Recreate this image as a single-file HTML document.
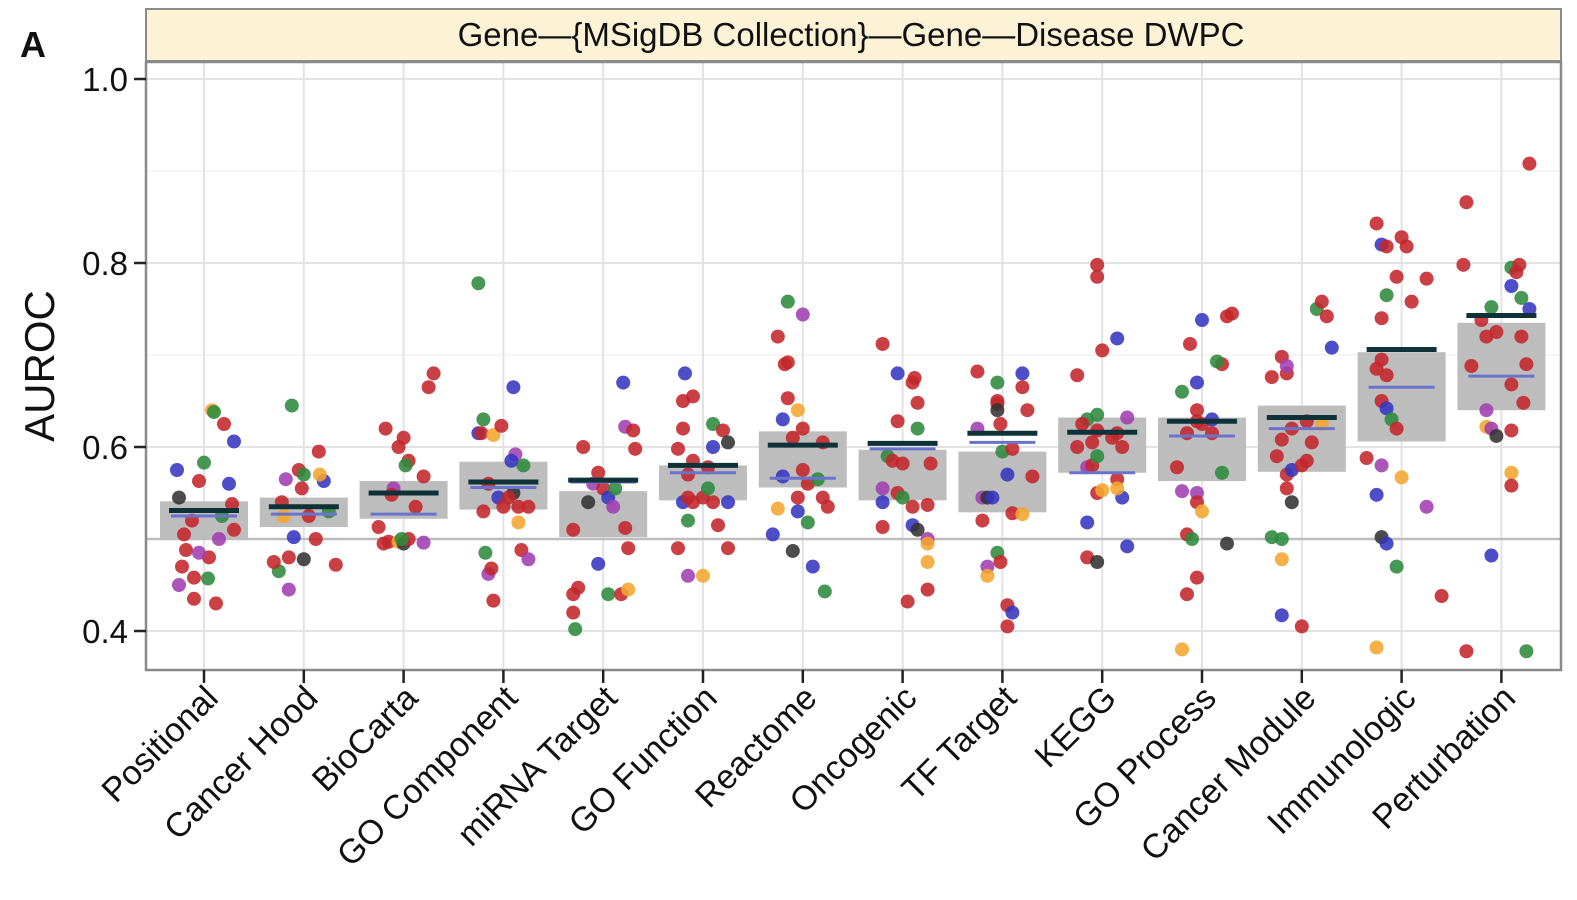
<!DOCTYPE html>
<html><head><meta charset="utf-8"><style>
body{margin:0;background:#fff;}
svg{display:block;font-family:"Liberation Sans",Arial,sans-serif;}
</style></head><body>
<svg id="c" width="1577" height="900"></svg>
<script>
const categories=["Positional","Cancer Hood","BioCarta","GO Component","miRNA Target","GO Function","Reactome","Oncogenic","TF Target","KEGG","GO Process","Cancer Module","Immunologic","Perturbation"];
const boxTop=[0.541,0.545,0.563,0.584,0.552,0.580,0.617,0.597,0.595,0.632,0.632,0.645,0.703,0.735];
const boxBottom=[0.499,0.513,0.522,0.532,0.502,0.542,0.556,0.542,0.529,0.572,0.563,0.573,0.606,0.640];
const meanVals=[0.531,0.535,0.550,0.562,0.564,0.580,0.602,0.604,0.615,0.616,0.628,0.632,0.706,0.743];
const medianVals=[0.525,0.527,0.527,0.556,0.562,0.572,0.566,0.598,0.605,0.572,0.612,0.620,0.665,0.677];
const yTicks=[0.4,0.6,0.8,1.0];
const yTickLabels=["0.4","0.6","0.8","1.0"];
// dots: [category index, jitter offset, value, color]
const dots=[
[0,-27,0.575,'b'],[0,-25,0.545,'k'],[0,0,0.583,'g'],[0,8,0.64,'o'],[0,10,0.638,'g'],[0,20,0.625,'r'],[0,30,0.606,'b'],[0,25,0.56,'b'],[0,-5,0.563,'r'],[0,-20,0.505,'r'],[0,-18,0.488,'r'],[0,-22,0.47,'r'],[0,-25,0.45,'p'],[0,-10,0.458,'r'],[0,-10,0.435,'r'],[0,5,0.48,'r'],[0,12,0.43,'r'],[0,4,0.457,'g'],[0,-5,0.485,'p'],[0,15,0.5,'p'],[0,18,0.525,'g'],[0,28,0.538,'r'],[0,30,0.51,'r'],[0,-12,0.52,'r'],
[1,-22,0.54,'r'],[1,-20,0.525,'o'],[1,-18,0.565,'p'],[1,-5,0.575,'r'],[1,0,0.57,'g'],[1,-10,0.502,'b'],[1,-15,0.48,'r'],[1,-25,0.465,'g'],[1,-15,0.445,'p'],[1,0,0.478,'k'],[1,12,0.5,'r'],[1,15,0.595,'r'],[1,20,0.563,'b'],[1,16,0.57,'o'],[1,25,0.53,'g'],[1,-12,0.645,'g'],[1,-2,0.555,'r'],[1,32,0.472,'r'],[1,-30,0.475,'r'],[1,5,0.525,'r'],
[2,-18,0.62,'r'],[2,-5,0.6,'r'],[2,0,0.61,'r'],[2,5,0.585,'r'],[2,2,0.58,'g'],[2,25,0.665,'r'],[2,30,0.68,'r'],[2,20,0.568,'r'],[2,-10,0.555,'p'],[2,-25,0.513,'r'],[2,-20,0.495,'r'],[2,-15,0.497,'r'],[2,-5,0.497,'o'],[2,0,0.495,'k'],[2,5,0.5,'r'],[2,20,0.496,'p'],[2,12,0.535,'r'],[2,-2,0.5,'g'],[2,-12,0.548,'r'],
[3,-25,0.615,'b'],[3,-20,0.63,'g'],[3,-22,0.615,'r'],[3,-10,0.613,'o'],[3,-2,0.623,'r'],[3,-25,0.778,'g'],[3,10,0.665,'b'],[3,12,0.592,'p'],[3,20,0.58,'g'],[3,-15,0.56,'r'],[3,-5,0.545,'b'],[3,-20,0.53,'r'],[3,-18,0.485,'g'],[3,-15,0.462,'p'],[3,-12,0.468,'r'],[3,-10,0.433,'r'],[3,15,0.518,'o'],[3,18,0.488,'r'],[3,25,0.478,'p'],[3,10,0.55,'k'],[3,5,0.545,'r'],[3,0,0.535,'r'],[3,15,0.535,'r'],[3,25,0.535,'r'],[3,8,0.585,'b'],
[4,20,0.67,'b'],[4,22,0.622,'p'],[4,30,0.618,'r'],[4,32,0.598,'r'],[4,-20,0.6,'r'],[4,-30,0.51,'r'],[4,-15,0.54,'k'],[4,-5,0.572,'r'],[4,-10,0.56,'p'],[4,0,0.555,'r'],[4,5,0.545,'b'],[4,10,0.535,'p'],[4,12,0.555,'g'],[4,22,0.512,'r'],[4,25,0.49,'r'],[4,-30,0.44,'r'],[4,-25,0.447,'r'],[4,-30,0.42,'r'],[4,-28,0.402,'g'],[4,-5,0.473,'b'],[4,5,0.44,'g'],[4,18,0.44,'r'],[4,25,0.445,'o'],
[5,-18,0.68,'b'],[5,-10,0.655,'r'],[5,-20,0.65,'r'],[5,10,0.625,'g'],[5,20,0.618,'r'],[5,-20,0.62,'r'],[5,-25,0.598,'r'],[5,-10,0.585,'r'],[5,5,0.578,'r'],[5,10,0.6,'b'],[5,25,0.605,'k'],[5,-15,0.57,'r'],[5,-20,0.54,'b'],[5,-15,0.545,'r'],[5,-10,0.54,'r'],[5,0,0.545,'r'],[5,5,0.555,'g'],[5,10,0.54,'r'],[5,25,0.54,'b'],[5,-15,0.52,'g'],[5,15,0.515,'r'],[5,25,0.49,'r'],[5,-25,0.49,'r'],[5,-15,0.46,'p'],[5,0,0.46,'o'],
[6,-15,0.758,'g'],[6,0,0.744,'p'],[6,-25,0.72,'r'],[6,-15,0.692,'r'],[6,-18,0.69,'r'],[6,-15,0.653,'r'],[6,-20,0.63,'b'],[6,-5,0.64,'o'],[6,0,0.62,'r'],[6,-10,0.61,'r'],[6,20,0.605,'r'],[6,-20,0.568,'b'],[6,0,0.575,'r'],[6,5,0.56,'r'],[6,15,0.565,'g'],[6,20,0.545,'r'],[6,25,0.535,'r'],[6,-5,0.545,'r'],[6,-25,0.533,'o'],[6,-5,0.53,'b'],[6,5,0.518,'g'],[6,-30,0.505,'b'],[6,-10,0.487,'k'],[6,10,0.47,'b'],[6,22,0.443,'g'],
[7,-20,0.712,'r'],[7,-5,0.68,'b'],[7,10,0.67,'r'],[7,12,0.675,'r'],[7,15,0.648,'r'],[7,-15,0.59,'g'],[7,-5,0.628,'r'],[7,-10,0.585,'r'],[7,0,0.582,'r'],[7,15,0.62,'g'],[7,28,0.582,'r'],[7,-20,0.555,'p'],[7,-20,0.54,'b'],[7,-5,0.55,'r'],[7,0,0.545,'g'],[7,10,0.535,'r'],[7,25,0.537,'r'],[7,-20,0.513,'r'],[7,10,0.515,'b'],[7,15,0.51,'k'],[7,25,0.5,'p'],[7,25,0.495,'o'],[7,25,0.475,'o'],[7,25,0.445,'r'],[7,5,0.432,'r'],
[8,-25,0.682,'r'],[8,20,0.68,'b'],[8,-5,0.65,'r'],[8,-5,0.647,'r'],[8,-2,0.625,'r'],[8,-25,0.62,'p'],[8,-5,0.64,'k'],[8,-5,0.67,'g'],[8,20,0.665,'r'],[8,25,0.64,'r'],[8,0,0.595,'g'],[8,5,0.57,'b'],[8,10,0.598,'r'],[8,30,0.568,'r'],[8,-20,0.545,'p'],[8,-15,0.545,'k'],[8,-10,0.545,'b'],[8,10,0.528,'r'],[8,20,0.527,'o'],[8,-20,0.52,'r'],[8,-5,0.485,'g'],[8,-2,0.475,'r'],[8,-15,0.47,'p'],[8,-15,0.46,'o'],[8,5,0.428,'r'],[8,10,0.42,'b'],[8,5,0.405,'r'],
[9,-5,0.798,'r'],[9,-5,0.785,'r'],[9,0,0.705,'r'],[9,15,0.718,'b'],[9,-25,0.678,'r'],[9,-15,0.63,'g'],[9,-5,0.635,'g'],[9,10,0.61,'r'],[9,-20,0.625,'r'],[9,-10,0.605,'r'],[9,-5,0.618,'r'],[9,25,0.632,'p'],[9,15,0.615,'r'],[9,20,0.6,'r'],[9,-25,0.6,'r'],[9,-15,0.578,'p'],[9,-10,0.58,'r'],[9,-5,0.59,'g'],[9,15,0.565,'r'],[9,-5,0.55,'r'],[9,0,0.553,'o'],[9,20,0.545,'b'],[9,-15,0.518,'b'],[9,15,0.555,'o'],[9,-15,0.48,'r'],[9,-5,0.475,'k'],[9,25,0.492,'b'],
[10,0,0.738,'b'],[10,30,0.745,'r'],[10,25,0.742,'r'],[10,-12,0.712,'r'],[10,20,0.69,'r'],[10,15,0.693,'g'],[10,-5,0.67,'b'],[10,-20,0.66,'g'],[10,-5,0.64,'r'],[10,-5,0.628,'r'],[10,0,0.625,'r'],[10,10,0.63,'b'],[10,10,0.615,'r'],[10,-15,0.615,'r'],[10,-25,0.578,'r'],[10,20,0.572,'g'],[10,-20,0.552,'p'],[10,-5,0.55,'p'],[10,-5,0.54,'r'],[10,-15,0.505,'r'],[10,0,0.53,'o'],[10,-10,0.5,'g'],[10,25,0.495,'k'],[10,-5,0.458,'r'],[10,-15,0.44,'r'],[10,-20,0.38,'o'],
[11,15,0.75,'g'],[11,20,0.758,'r'],[11,25,0.742,'r'],[11,30,0.708,'b'],[11,-30,0.676,'r'],[11,-20,0.698,'r'],[11,-15,0.68,'r'],[11,-15,0.688,'p'],[11,5,0.628,'r'],[11,-25,0.59,'r'],[11,-20,0.608,'r'],[11,-10,0.62,'r'],[11,10,0.605,'r'],[11,20,0.625,'o'],[11,-15,0.57,'r'],[11,-10,0.575,'b'],[11,0,0.58,'r'],[11,5,0.585,'r'],[11,-15,0.555,'r'],[11,-10,0.54,'k'],[11,-30,0.502,'g'],[11,-20,0.5,'g'],[11,-20,0.478,'o'],[11,-20,0.417,'b'],[11,0,0.405,'r'],
[12,-25,0.843,'r'],[12,-20,0.82,'b'],[12,-15,0.818,'r'],[12,5,0.818,'r'],[12,0,0.828,'r'],[12,25,0.783,'r'],[12,-5,0.785,'r'],[12,-15,0.765,'g'],[12,-20,0.74,'r'],[12,10,0.758,'r'],[12,-20,0.695,'r'],[12,-25,0.685,'r'],[12,-15,0.678,'r'],[12,-20,0.65,'r'],[12,-15,0.642,'b'],[12,-10,0.63,'g'],[12,-5,0.62,'r'],[12,-35,0.588,'r'],[12,-20,0.58,'p'],[12,-25,0.548,'b'],[12,0,0.567,'o'],[12,25,0.535,'p'],[12,-20,0.502,'k'],[12,-15,0.495,'b'],[12,-5,0.47,'g'],[12,40,0.438,'r'],[12,-25,0.382,'o'],
[13,28,0.908,'r'],[13,-35,0.866,'r'],[13,-38,0.798,'r'],[13,10,0.795,'g'],[13,15,0.79,'r'],[13,18,0.798,'r'],[13,-10,0.752,'g'],[13,10,0.775,'b'],[13,20,0.762,'g'],[13,28,0.75,'b'],[13,-20,0.738,'r'],[13,-15,0.72,'r'],[13,-5,0.725,'r'],[13,20,0.72,'r'],[13,25,0.69,'r'],[13,-30,0.688,'r'],[13,10,0.668,'r'],[13,22,0.648,'r'],[13,-15,0.64,'p'],[13,-15,0.622,'o'],[13,-10,0.62,'p'],[13,10,0.618,'r'],[13,-5,0.612,'k'],[13,10,0.572,'o'],[13,10,0.558,'r'],[13,-10,0.482,'b'],[13,-35,0.378,'r'],[13,25,0.378,'g']
];
const colorMap={r:'#c3262b',b:'#3436c0',g:'#2e8a3c',p:'#a03db0',o:'#f4a52e',k:'#333333'};
const NS='http://www.w3.org/2000/svg';
const svg=document.getElementById('c');
const L=146,R=1561,T=62,B=670;
function yS(v){return 79+(1-v)*920;}
function xS(i){return 204+i*99.8;}
function mk(tag,attrs,parent){const e=document.createElementNS(NS,tag);for(const k in attrs)e.setAttribute(k,attrs[k]);(parent||svg).appendChild(e);return e;}
let e;
e=mk('rect',{x:L,y:T,width:R-L,height:B-T,fill:'#fff'});


[0.5,0.7,0.9].forEach(v=>{e=mk('line',{x1:L,x2:R,y1:yS(v),y2:yS(v),stroke:'#f2f2f2','stroke-width':1.5});});
yTicks.forEach(v=>{e=mk('line',{x1:L,x2:R,y1:yS(v),y2:yS(v),stroke:'#e3e3e3','stroke-width':2});});
categories.forEach((c,i)=>{e=mk('line',{x1:xS(i),x2:xS(i),y1:T,y2:B,stroke:'#e3e3e3','stroke-width':2});});
e=mk('line',{x1:L,x2:R,y1:yS(0.5),y2:yS(0.5),stroke:'#bdbdbd','stroke-width':2.5});


categories.forEach((c,i)=>{
 e=mk('rect',{x:xS(i)-44,y:yS(boxTop[i]),width:88,height:yS(boxBottom[i])-yS(boxTop[i]),fill:'#bdbdbd'});
 
 
});
dots.forEach(d=>{
 e=mk('circle',{cx:xS(d[0])+d[1],cy:yS(d[2]),r:7,fill:colorMap[d[3]],'fill-opacity':0.88});
 
 
});
categories.forEach((c,i)=>{
 e=mk('line',{x1:xS(i)-33,x2:xS(i)+33,y1:yS(medianVals[i]),y2:yS(medianVals[i]),stroke:'#6a73cc','stroke-width':3});
 
 
 e=mk('line',{x1:xS(i)-35,x2:xS(i)+35,y1:yS(meanVals[i]),y2:yS(meanVals[i]),stroke:'#0f3239','stroke-width':5});
 
 
});
e=mk('rect',{x:L,y:T,width:R-L,height:B-T,fill:'none',stroke:'#8a8a8a','stroke-width':2.5});


e=mk('rect',{x:L,y:9,width:R-L,height:52,fill:'#fcf2d5',stroke:'#8a8a8a','stroke-width':2});


e=mk('text',{x:851,y:46,'text-anchor':'middle','font-size':33,fill:'#111'});
e.textContent='Gene—{MSigDB Collection}—Gene—Disease DWPC';


yTicks.forEach((v,k)=>{
 e=mk('line',{x1:L-12,x2:L,y1:yS(v),y2:yS(v),stroke:'#222','stroke-width':2.5});
 
 
 e=mk('text',{x:L-18,y:yS(v)+12,'text-anchor':'end','font-size':33,fill:'#111'});
 e.textContent=yTickLabels[k];
 
 
});
e=mk('text',{x:0,y:0,'text-anchor':'middle','font-size':42,fill:'#111',transform:'translate(54,366) rotate(-90)'});
e.textContent='AUROC';


e=mk('text',{x:20,y:57,'font-size':36,'font-weight':'bold',fill:'#111'});
e.textContent='A';


categories.forEach((c,i)=>{
 e=mk('line',{x1:xS(i),x2:xS(i),y1:B,y2:B+13,stroke:'#222','stroke-width':2.5});
 
 
 e=mk('text',{x:0,y:0,'text-anchor':'end','font-size':34,fill:'#111',transform:'translate('+(xS(i)+16)+',700) rotate(-45)'});
 e.textContent=c;
 
 
});
</script>
</body></html>
